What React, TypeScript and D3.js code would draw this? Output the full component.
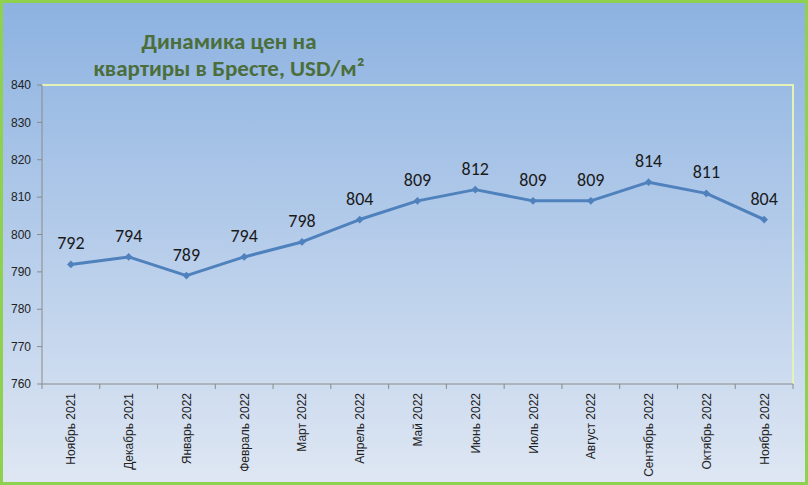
import React from "react";
import * as d3 from "d3";

// Chart data
const months = [
  "Ноябрь 2021",
  "Декабрь 2021",
  "Январь 2022",
  "Февраль 2022",
  "Март 2022",
  "Апрель 2022",
  "Май 2022",
  "Июнь 2022",
  "Июль 2022",
  "Август 2022",
  "Сентябрь 2022",
  "Октябрь 2022",
  "Ноябрь 2022",
];
const prices = [792, 794, 789, 794, 798, 804, 809, 812, 809, 809, 814, 811, 804];
const yTicks = [760, 770, 780, 790, 800, 810, 820, 830, 840];
const titleLines = ["Динамика цен на", "квартиры в Бресте, USD/м²"];

const W = 808;
const H = 485;
const plot = { left: 42, top: 85, right: 793, bottom: 384 };

export default function App() {
  const x = d3
    .scaleBand<string>()
    .domain(months)
    .range([plot.left, plot.right]);
  const y = d3
    .scaleLinear()
    .domain([760, 840])
    .range([plot.bottom, plot.top]);

  const cx = (i: number) => (x(months[i]) ?? 0) + x.bandwidth() / 2;

  const line = d3
    .line<number>()
    .x((_, i) => cx(i))
    .y((d) => y(d));

  // Excel-style diamond: a square turned 45 degrees
  const marker = d3.symbol(d3.symbolSquare, 30)() ?? "";
  const font = "Carlito, Calibri, 'Open Sans', sans-serif";
  const axisFont = "'Liberation Sans', Arial, sans-serif";

  return (
    <div style={{ position: "fixed", left: 0, top: 0 }}>
      <svg width={W} height={H} style={{ display: "block" }}>
        <defs>
          <linearGradient id="bg" x1="0" y1="0" x2="0" y2="1">
            <stop offset="0%" stopColor="#8cb2e1" />
            <stop offset="100%" stopColor="#dfe7f3" />
          </linearGradient>
        </defs>
        <rect x={0} y={0} width={W} height={H} fill="url(#bg)" />
        <rect
          x={1.5}
          y={1.5}
          width={W - 3}
          height={H - 3}
          fill="none"
          stroke="#8ed14f"
          strokeWidth={3}
        />

        {/* title */}
        <g fontFamily={font} fontWeight="bold" fontSize={23} fill="#4b6e3b" textAnchor="middle">
          {titleLines.map((t, i) => (
            <text key={i} x={229} y={49 + i * 27}>
              {t}
            </text>
          ))}
        </g>

        {/* plot border top/right */}
        <path
          d={`M${plot.left},${plot.top}H${plot.right}V${plot.bottom}`}
          fill="none"
          stroke="#e4f2b8"
          strokeWidth={2}
        />

        {/* y axis */}
        <line x1={plot.left} x2={plot.left} y1={plot.top} y2={plot.bottom} stroke="#8a8a8a" />
        {yTicks.map((t) => (
          <g key={t}>
            <line x1={plot.left - 5} x2={plot.left} y1={y(t)} y2={y(t)} stroke="#8a8a8a" />
            <text
              x={plot.left - 11}
              y={y(t)}
              dy="0.35em"
              textAnchor="end"
              fontFamily={axisFont}
              fontSize={12}
              fill="#222"
            >
              {t}
            </text>
          </g>
        ))}

        {/* x axis */}
        <line x1={plot.left} x2={plot.right} y1={plot.bottom} y2={plot.bottom} stroke="#8a8a8a" />
        {months.map((m, i) => (
          <line
            key={"t" + i}
            x1={x(m) ?? 0}
            x2={x(m) ?? 0}
            y1={plot.bottom}
            y2={plot.bottom + 5}
            stroke="#8a8a8a"
          />
        ))}
        <line
          x1={plot.right}
          x2={plot.right}
          y1={plot.bottom}
          y2={plot.bottom + 5}
          stroke="#8a8a8a"
        />
        {months.map((m, i) => (
          <text
            key={"l" + i}
            transform={`translate(${cx(i) + 4.5},${plot.bottom + 9}) rotate(-90)`}
            textAnchor="end"
            fontFamily={axisFont}
            fontSize={12}
            fill="#222"
          >
            {m}
          </text>
        ))}

        {/* series */}
        <path d={line(prices) ?? ""} fill="none" stroke="#4f81bd" strokeWidth={3} strokeLinejoin="round" />
        {prices.map((p, i) => (
          <path
            key={"m" + i}
            d={marker}
            transform={`translate(${cx(i)},${y(p)}) rotate(45)`}
            fill="#4f81bd"
          />
        ))}
        {prices.map((p, i) => (
          <text
            key={"v" + i}
            x={cx(i)}
            y={y(p) - 15}
            textAnchor="middle"
            fontFamily={font}
            fontSize={18}
            fill="#1a1a1a"
          >
            {p}
          </text>
        ))}
      </svg>
    </div>
  );
}
